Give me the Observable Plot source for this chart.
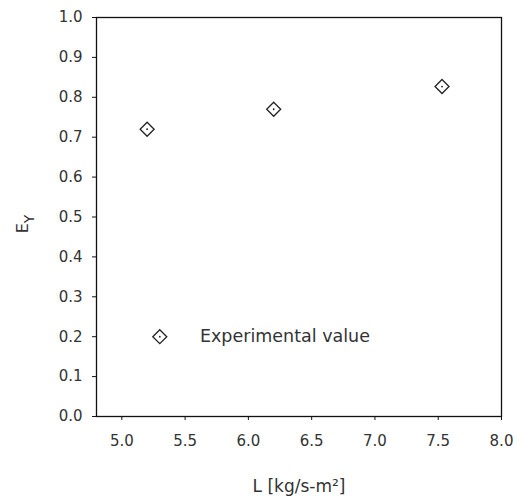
<!DOCTYPE html>
<html><head><meta charset="utf-8">
<script src="https://cdn.jsdelivr.net/npm/d3@7"></script>
<script src="https://cdn.jsdelivr.net/npm/@observablehq/plot@0.6"></script>
<style>html,body{margin:0;padding:0;background:#fff}</style>
</head><body><div id="chart"></div>
<script>
// Data
const L = [5.2, 6.2, 7.53];
const EY = [0.72, 0.77, 0.827];
const xTicks = [5.0, 5.5, 6.0, 6.5, 7.0, 7.5, 8.0];
const yTicks = [0.0, 0.1, 0.2, 0.3, 0.4, 0.5, 0.6, 0.7, 0.8, 0.9, 1.0];
const seriesName = ["Experimental value"];
const xLabel = ["L [kg/s-m²]"];
const yLabelMain = "E";
const yLabelSub = "Y";

const data = L.map((x, i) => ({L: x, E: EY[i]}));
const ink = "#222";

const chart = Plot.plot({
  width: 517, height: 503,
  marginLeft: 96, marginRight: 16, marginTop: 17, marginBottom: 87,
  style: {fontFamily: "DejaVu Sans, sans-serif", fontSize: "15px", color: "#333", background: "#fff"},
  x: {domain: [4.8, 8.0]},
  y: {domain: [0, 1]},
  marks: [
    Plot.frame({stroke: "#111", strokeWidth: 1.3}),
    Plot.axisX({ticks: xTicks, tickSize: 4, tickPadding: 15, tickFormat: d3.format(".1f"), label: null, stroke: "#111"}),
    Plot.axisY({ticks: yTicks, tickSize: 4, tickPadding: 10, tickFormat: d3.format(".1f"), label: null, stroke: "#111"}),
    Plot.dot(data, {x: "L", y: "E", symbol: "diamond2", r: 6.3, stroke: ink, strokeWidth: 1.3, fill: "none"}),
    Plot.dot(data, {x: "L", y: "E", r: 0.9, fill: ink, stroke: "none"}),
    // legend
    Plot.dot(seriesName, {x: () => 5.30, y: () => 0.2, symbol: "diamond2", r: 6.3, stroke: ink, strokeWidth: 1.3, fill: "none"}),
    Plot.dot(seriesName, {x: () => 5.30, y: () => 0.2, r: 0.9, fill: ink, stroke: "none"}),
    Plot.text(seriesName, {x: () => 5.617, y: () => 0.2, text: d => d, textAnchor: "start", fontSize: 17.5, fill: "#333"}),
    // x axis title
    Plot.text(xLabel, {frameAnchor: "bottom", dy: 75, text: d => d, fontSize: 17, fill: "#333"})
  ]
});

// y axis title with subscript
const svg = d3.select(chart);
const t = svg.append("text")
  .attr("transform", "translate(28,224) rotate(-90)")
  .attr("fill", "#333")
  .attr("font-family", "DejaVu Sans, sans-serif")
  .attr("font-size", 16);
t.append("tspan").text(yLabelMain);
t.append("tspan").attr("font-size", 14).attr("dy", 6).text(yLabelSub);

document.getElementById("chart").appendChild(chart);
</script>
</body></html>
